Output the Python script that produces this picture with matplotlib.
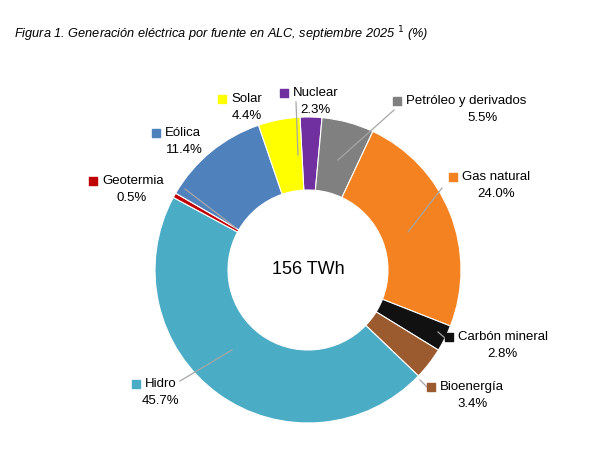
import matplotlib.pyplot as plt

fuentes = ['Nuclear', 'Petróleo y derivados', 'Gas natural', 'Carbón mineral',
           'Bioenergía', 'Hidro', 'Geotermia', 'Eólica', 'Solar']
valores = [2.3, 5.5, 24.0, 2.8, 3.4, 45.7, 0.5, 11.4, 4.4]
colores = ['#7030A0', '#808080', '#F58220', '#111111', '#9C5B2E',
           '#4BACC6', '#C00000', '#4F81BD', '#FFFF00']

H = 454
fig = plt.figure(figsize=(6.12, 4.54), dpi=100)
ax = fig.add_axes([0, 0, 1, 1])

cx, cy = 308, H - 270
ax.pie(valores, colors=colores, startangle=93, counterclock=False,
       center=(cx, cy), radius=153, frame=True,
       wedgeprops=dict(width=73, edgecolor='white', linewidth=0.8))
ax.set_xlim(0, 612)
ax.set_ylim(0, H)
ax.set_aspect('equal')
ax.axis('off')

ax.text(cx, cy, '156 TWh', ha='center', va='center', fontsize=13,
        family='Liberation Sans')

# label positions (marker x, y, text center x) in pixels from top
pos = {
    'Solar': (222, 99, 247),
    'Nuclear': (284, 93, 315),
    'Petróleo y derivados': (397, 101, 483),
    'Gas natural': (453, 177, 496),
    'Carbón mineral': (449, 337, 502),
    'Bioenergía': (431, 387, 473),
    'Hidro': (136, 384, 161),
    'Geotermia': (93, 181, 132),
    'Eólica': (156, 133, 184),
}
lines = {
    'Nuclear': ((296, 102), (298, 155)),
    'Petróleo y derivados': ((394, 110), (338, 160)),
    'Gas natural': ((442, 188), (408, 232)),
    'Carbón mineral': ((445, 338), (438, 332)),
    'Bioenergía': ((428, 388), (420, 380)),
    'Hidro': ((180, 381), (232, 350)),
    'Geotermia': ((185, 189), (236, 228)),
}
for f, v, c in zip(fuentes, valores, colores):
    mx, my, tx = pos[f]
    ax.scatter(mx, H - my, marker='s', s=30, color=c, zorder=5)
    ax.text(mx + 9, H - my, f, ha='left', va='center', fontsize=9.5,
            family='Liberation Sans')
    ax.text(tx, H - my - 17, f'{v:.1f}%', ha='center', va='center',
            fontsize=9.5, family='Liberation Sans')
    if f in lines:
        (x1, y1), (x2, y2) = lines[f]
        ax.plot([x1, x2], [H - y1, H - y2], color='#A6A6A6', lw=0.9, zorder=4)

ax.text(14, H - 34, 'Figura 1. Generación eléctrica por fuente en ALC, septiembre 2025 $^{1}$ (%)',
        ha='left', va='center', fontsize=9.2, style='italic', family='Liberation Sans')

fig.savefig('out.png', dpi=100)
